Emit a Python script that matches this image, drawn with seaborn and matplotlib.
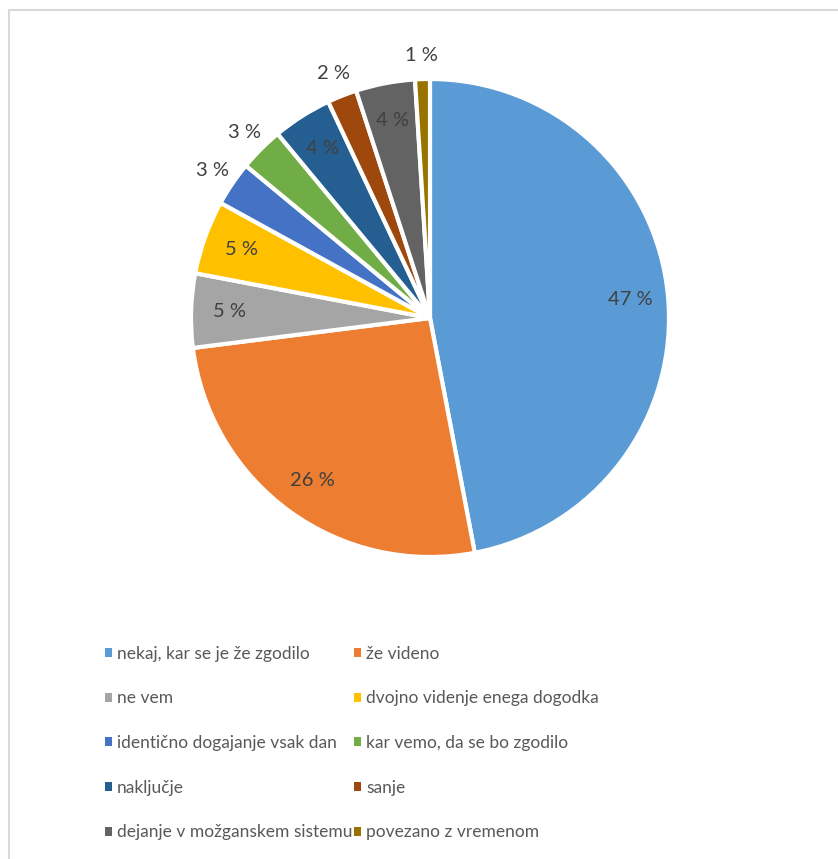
import matplotlib
matplotlib.use("Agg")
import matplotlib.pyplot as plt
import seaborn as sns
from matplotlib.patches import Patch
from matplotlib.lines import Line2D
import numpy as np

# Data
categories = [
    "nekaj, kar se je že zgodilo",
    "že videno",
    "ne vem",
    "dvojno videnje enega dogodka",
    "identično dogajanje vsak dan",
    "kar vemo, da se bo zgodilo",
    "naključje",
    "sanje",
    "dejanje v možganskem sistemu",
    "povezano z vremenom",
]
shares = [47, 26, 5, 5, 3, 3, 4, 2, 4, 1]
label_outside = [False, False, False, False, True, True, False, True, False, True]
colors = ["#5B9BD5", "#ED7D31", "#A5A5A5", "#FFC000", "#4472C4",
          "#70AD47", "#255E91", "#9E480E", "#636363", "#997300"]

sns.set_theme(style="white")
plt.rcParams["font.family"] = ["Lato", "DejaVu Sans"]
palette = sns.color_palette(colors)

W, H = 838, 859
fig = plt.figure(figsize=(W / 100, H / 100), dpi=100)

# pie axes: centre (430, 318) px, radius 239 px
cx, cy, r = 430, 318, 239
ax = fig.add_axes([(cx - r) / W, (H - cy - r) / H, 2 * r / W, 2 * r / H])
wedges, _ = ax.pie(shares, colors=palette, startangle=90, counterclock=False,
                   radius=1, wedgeprops=dict(edgecolor="white", linewidth=3))
ax.set_xlim(-1, 1)
ax.set_ylim(-1, 1)
ax.set_aspect("equal")
ax.axis("off")

# percent labels
for w, val, out in zip(wedges, shares, label_outside):
    ang = np.deg2rad((w.theta1 + w.theta2) / 2)
    d = 1.1 if out else 0.84
    ax.text(d * np.cos(ang), d * np.sin(ang), f"{val} %", ha="center", va="center",
            fontsize=14.5, color="#404040")

# legend, row-major order in two columns
order = list(range(0, 10, 2)) + list(range(1, 10, 2))
handles = [Patch(facecolor=palette[i], edgecolor="none") for i in order]
labels = [categories[i] for i in order]
fig.legend(handles, labels, ncol=2, loc="upper left",
           bbox_to_anchor=(96 / W, 1 - 637 / H), frameon=False,
           fontsize=12.5, labelcolor="#595959", handlelength=0.42, handleheight=0.42,
           handletextpad=0.3, columnspacing=0.05, labelspacing=1.65, borderpad=0)

# chart border (top and left edges visible)
fig.add_artist(Line2D([9 / W, 9 / W], [0, 1 - 10 / H], color="#D9D9D9", lw=1.5))
fig.add_artist(Line2D([9 / W, 1], [1 - 10 / H, 1 - 10 / H], color="#D9D9D9", lw=1.5))

fig.savefig("out.png", dpi=100, facecolor="white")
